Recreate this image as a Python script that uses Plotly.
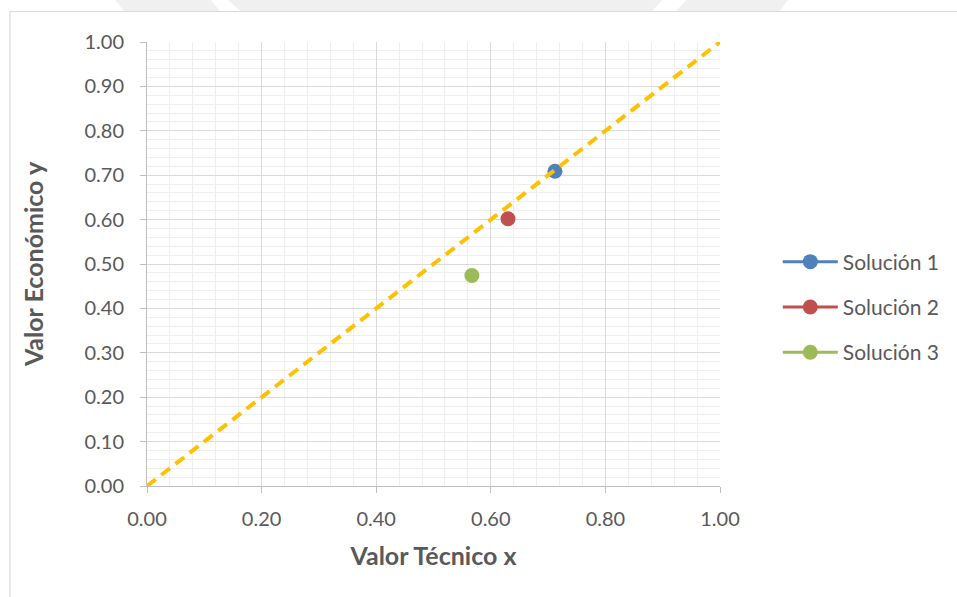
import plotly.graph_objects as go

# Soluciones evaluadas: valor técnico (x) y valor económico (y)
soluciones = ["Solución 1", "Solución 2", "Solución 3"]
valor_tecnico = [0.712, 0.630, 0.567]
valor_economico = [0.709, 0.602, 0.474]
colores = ["#4f81bd", "#c0504d", "#9bbb59"]

# Recta de referencia y = x
recta_x = [0.0, 1.0]
recta_y = [0.0, 1.0]

tick_vals = [0.0, 0.2, 0.4, 0.6, 0.8, 1.0]
tick_vals_y = [0.0, 0.1, 0.2, 0.3, 0.4, 0.5, 0.6, 0.7, 0.8, 0.9, 1.0]

W, H = 957, 597
ML, MR, MT, MB = 147, 235, 42, 111
PW, PH = W - ML - MR, H - MT - MB


def px(x):
    return (x - ML) / PW


def py(y):
    return (H - MB - y) / PH


TXT = "#595959"
FONT = "Lato, 'Open Sans', sans-serif"

fig = go.Figure()

for i, nombre in enumerate(soluciones):
    fig.add_trace(go.Scatter(
        x=[valor_tecnico[i]], y=[valor_economico[i]],
        mode="lines+markers", name=nombre, legendgroup=nombre,
        marker=dict(size=15, color=colores[i]),
        line=dict(color=colores[i], width=3),
        cliponaxis=False,
    ))

fig.add_trace(go.Scatter(
    x=recta_x, y=recta_y, mode="lines", showlegend=False,
    line=dict(color="#ffc000", width=4, dash="11px,7px"),
    hoverinfo="skip",
))

shapes = []
# Marco del área del gráfico
shapes.append(dict(
    type="path", xref="paper", yref="paper",
    path=f"M {px(9.5)},{py(620)} L {px(9.5)},{py(11.5)} L {px(980)},{py(11.5)}",
    line=dict(color="#d9d9d9", width=1.2), layer="below",
))
# Franja gris decorativa superior
banda = "#f0f0f0"
for x0, x1, x2, x3 in [(115, 211, 220, 124), (228, 664, 654, 241), (688, 790, 782, 678)]:
    shapes.append(dict(
        type="path", xref="paper", yref="paper",
        path=(f"M {px(x0)},{py(0)} L {px(x1)},{py(0)} "
              f"L {px(x2)},{py(11)} L {px(x3)},{py(11)} Z"),
        fillcolor=banda, line=dict(width=0), layer="below",
    ))

fig.update_layout(
    width=W, height=H,
    margin=dict(l=ML, r=MR, t=MT, b=MB),
    paper_bgcolor="white", plot_bgcolor="white",
    font=dict(family=FONT, color=TXT, size=20),
    shapes=shapes,
    showlegend=True,
    legend=dict(
        x=px(780), y=py(307), xanchor="left", yanchor="middle",
        font=dict(size=21, color=TXT, family=FONT),
        tracegroupgap=15, itemwidth=55,
        bgcolor="rgba(0,0,0,0)",
    ),
    xaxis=dict(
        range=[0, 1], tickvals=tick_vals, ticktext=[f"{v:.2f}" for v in tick_vals],
        showgrid=True, gridcolor="#d9d9d9", gridwidth=1,
        minor=dict(dtick=0.04, showgrid=True, gridcolor="#eeeeee", gridwidth=1),
        showline=True, linecolor="#bfbfbf", linewidth=1,
        ticks="outside", ticklen=6, tickcolor="#bfbfbf",
        zeroline=False, tickfont=dict(size=20, color=TXT),
        ticklabelstandoff=9,
        title=dict(text="<b>Valor Técnico x</b>", font=dict(size=25, color=TXT), standoff=18),
    ),
    yaxis=dict(
        range=[0, 1], tickvals=tick_vals_y, ticktext=[f"{v:.2f}" for v in tick_vals_y],
        showgrid=True, gridcolor="#d9d9d9", gridwidth=1,
        minor=dict(dtick=0.02, showgrid=True, gridcolor="#eeeeee", gridwidth=1),
        showline=True, linecolor="#bfbfbf", linewidth=1,
        ticks="outside", ticklen=6, tickcolor="#bfbfbf",
        zeroline=False, tickfont=dict(size=20, color=TXT),
        ticklabelstandoff=12,
        title=dict(text="<b>Valor Económico y</b>", font=dict(size=25, color=TXT), standoff=33),
    ),
)

fig.write_html("out.html")
